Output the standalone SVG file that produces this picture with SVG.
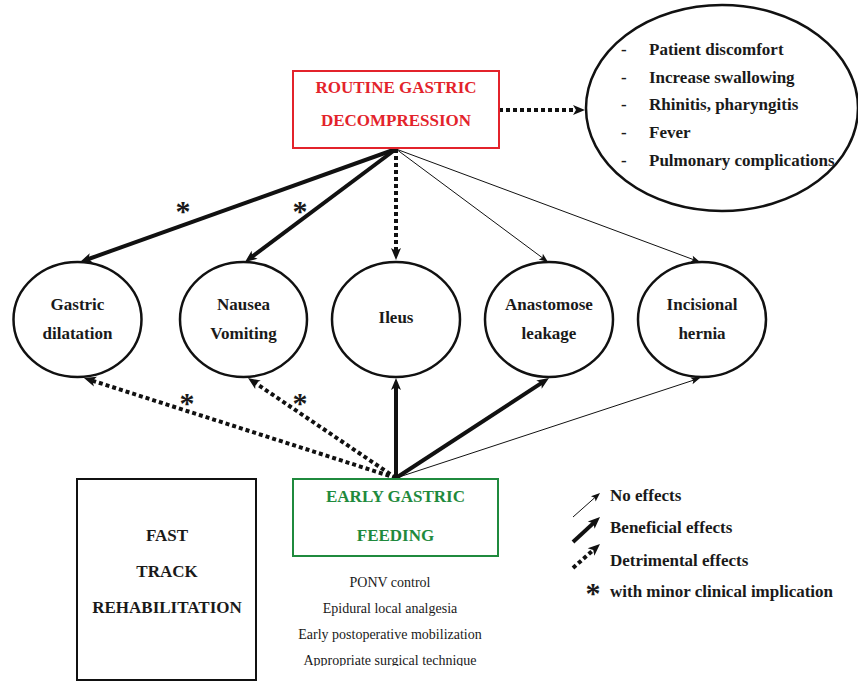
<svg xmlns="http://www.w3.org/2000/svg" width="858" height="682" viewBox="0 0 858 682">
<style>
text{font-family:"Liberation Serif","Times New Roman",serif;font-weight:bold;font-size:17px;fill:#1a1a1a}
.c{text-anchor:middle}
.red{fill:#e3232b}
.green{fill:#1f8a3d}
.reg{font-weight:normal;font-size:14px}
.star{font-size:30px}
.node ellipse{fill:#fff;stroke:#111;stroke-width:2.5}
.thick{stroke:#111;stroke-width:4;fill:none;marker-end:url(#hk)}
.thin{stroke:#111;stroke-width:1;fill:none;marker-end:url(#hn)}
.dot{stroke:#111;stroke-width:4;fill:none;stroke-dasharray:4 3;marker-end:url(#hk)}
</style>
<defs>
<marker id="hk" markerUnits="userSpaceOnUse" markerWidth="14" markerHeight="12" refX="6" refY="5" orient="auto" overflow="visible">
<path d="M0,0 L12,5 L0,10 L3,5 z" fill="#111"/>
</marker>
<marker id="hn" markerUnits="userSpaceOnUse" markerWidth="10" markerHeight="8" refX="4" refY="3.5" orient="auto" overflow="visible">
<path d="M0,0 L9,3.5 L0,7 L2,3.5 z" fill="#111"/>
</marker>
<clipPath id="clipbot"><rect x="0" y="0" width="858" height="666"/></clipPath>
</defs>
<rect width="858" height="682" fill="#fff"/>

<g id="connectors">
<line class="thick" x1="396" y1="149" x2="85.7" y2="260"/>
<line class="thick" x1="396" y1="149" x2="249.8" y2="258.4"/>
<line class="dot" x1="396" y1="149" x2="396" y2="254"/>
<line class="thin" x1="396" y1="149" x2="544" y2="259"/>
<line class="thin" x1="396" y1="149" x2="695.3" y2="260.3"/>
<line class="dot" x1="499" y1="110" x2="579" y2="110"/>
<line class="dot" x1="396" y1="478" x2="89.7" y2="379.8"/>
<line class="dot" x1="396" y1="478" x2="253" y2="381.4"/>
<line class="thick" x1="396" y1="478" x2="396" y2="384"/>
<line class="thick" x1="396" y1="478" x2="544" y2="381.3"/>
<line class="thin" x1="396" y1="478" x2="695.3" y2="379.6"/>
<text class="star c" x="183" y="221">*</text>
<text class="star c" x="300" y="221">*</text>
<text class="star c" x="187" y="413">*</text>
<text class="star c" x="300" y="413">*</text>
</g>

<g id="routine">
<rect x="293" y="71" width="206" height="77" fill="#fff" stroke="#e3232b" stroke-width="2"/>
<text class="c red" x="396" y="93">ROUTINE GASTRIC</text>
<text class="c red" x="396" y="125.5">DECOMPRESSION</text>
</g>

<g id="complications" class="node">
<ellipse cx="722" cy="108" rx="136" ry="103"/>
<text x="621" y="55">-</text><text x="649" y="55">Patient discomfort</text>
<text x="621" y="83">-</text><text x="649" y="83">Increase swallowing</text>
<text x="621" y="110">-</text><text x="649" y="110">Rhinitis, pharyngitis</text>
<text x="621" y="138">-</text><text x="649" y="138">Fever</text>
<text x="621" y="166">-</text><text x="649" y="166">Pulmonary complications</text>
</g>

<g id="gastric-dilatation" class="node">
<ellipse cx="77.5" cy="319.5" rx="64" ry="57.5"/>
<text class="c" x="77.5" y="310">Gastric</text>
<text class="c" x="77.5" y="339">dilatation</text>
</g>
<g id="nausea-vomiting" class="node">
<ellipse cx="243.5" cy="319.5" rx="63.5" ry="57.5"/>
<text class="c" x="243.5" y="310">Nausea</text>
<text class="c" x="243.5" y="339">Vomiting</text>
</g>
<g id="ileus" class="node">
<ellipse cx="396" cy="319.5" rx="64" ry="57.5"/>
<text class="c" x="396" y="323">Ileus</text>
</g>
<g id="anastomose-leakage" class="node">
<ellipse cx="549" cy="319.5" rx="64" ry="57.5"/>
<text class="c" x="549" y="310">Anastomose</text>
<text class="c" x="549" y="339">leakage</text>
</g>
<g id="incisional-hernia" class="node">
<ellipse cx="702" cy="319.5" rx="64" ry="57.5"/>
<text class="c" x="702" y="310">Incisional</text>
<text class="c" x="702" y="339">hernia</text>
</g>

<g id="early-feeding">
<rect x="293" y="479" width="205" height="77" fill="#fff" stroke="#1f8a3d" stroke-width="2"/>
<text class="c green" x="395.5" y="502">EARLY GASTRIC</text>
<text class="c green" x="395.5" y="541">FEEDING</text>
</g>

<g id="measures" clip-path="url(#clipbot)">
<text class="c reg" x="390" y="587">PONV control</text>
<text class="c reg" x="390" y="613">Epidural local analgesia</text>
<text class="c reg" x="390" y="639">Early postoperative mobilization</text>
<text class="c reg" x="390" y="665">Appropriate surgical technique</text>
</g>

<g id="fast-track">
<rect x="77" y="479" width="179" height="201" fill="#fff" stroke="#111" stroke-width="2"/>
<text class="c" x="167" y="541">FAST</text>
<text class="c" x="167" y="577">TRACK</text>
<text class="c" x="167" y="613">REHABILITATION</text>
</g>

<g id="legend">
<line class="thin" x1="573" y1="517" x2="596.3" y2="496.3"/>
<line class="thick" x1="573" y1="542" x2="595.6" y2="521.1"/>
<line class="dot" x1="573" y1="568" x2="595.5" y2="548"/>
<text x="610" y="501">No effects</text>
<text x="610" y="533">Beneficial effects</text>
<text x="610" y="566">Detrimental effects</text>
<text class="star c" x="593" y="603">*</text>
<text x="610" y="597">with minor clinical implication</text>
</g>
</svg>
